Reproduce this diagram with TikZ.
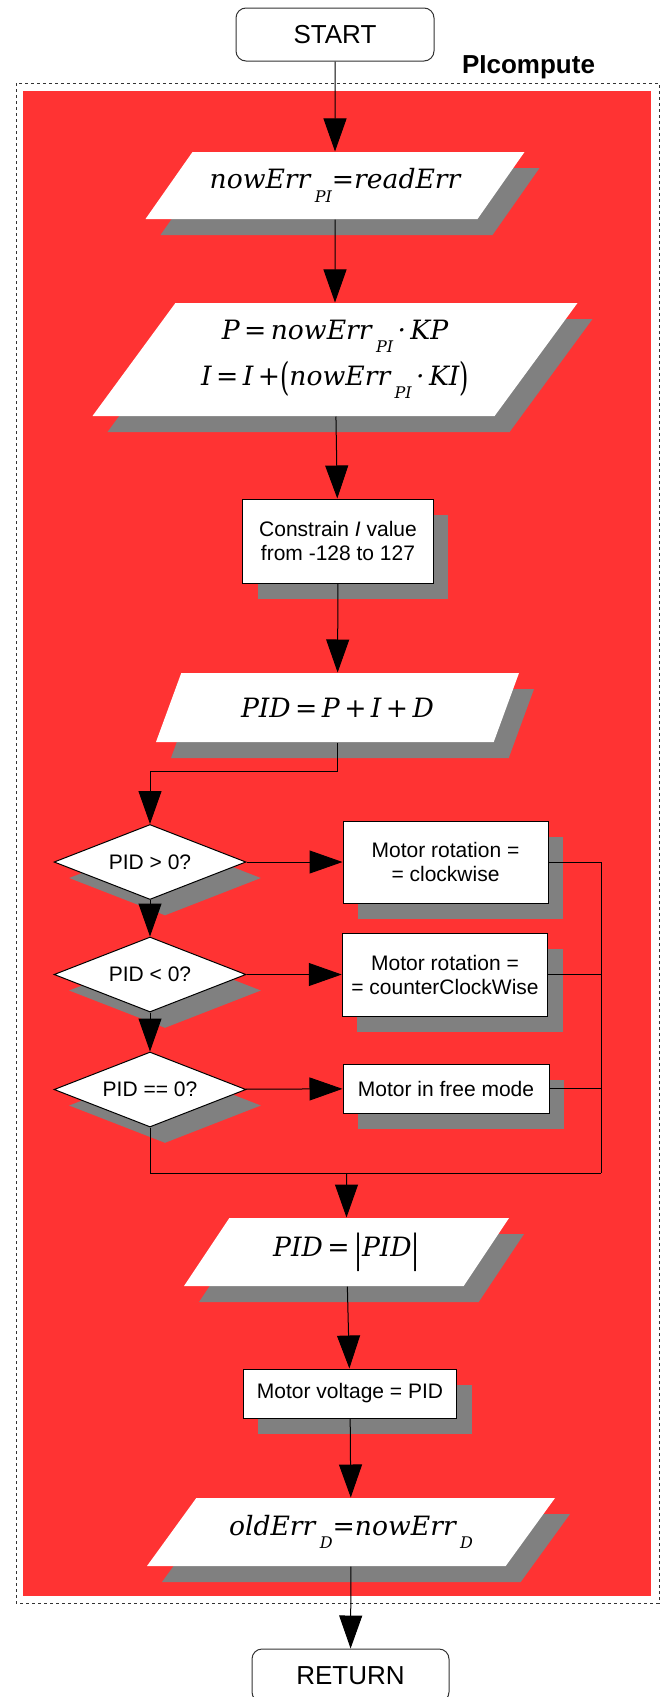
\documentclass[tikz,border=0pt]{standalone}
\usepackage{fontspec}
\setmainfont{Liberation Sans}
\newfontfamily\formfont{DejaVu Serif}
\usetikzlibrary{shapes.geometric,arrows.meta,shadows}

\definecolor{framered}{RGB}{255,51,51}
\definecolor{shadegray}{RGB}{128,128,128}

\newcommand{\fsub}[1]{\,\raisebox{-0.5em}{\fontsize{8}{8}\selectfont #1}}
\newcommand{\fdot}{\,\textperiodcentered\,}
\newcommand{\tallp}[1]{\raisebox{-0.2em}{\scalebox{0.9}[1.45]{\upshape #1}}}

\tikzset{
    shade/.style={drop shadow={shadow xshift=7.5pt, shadow yshift=-8pt, fill=shadegray, opacity=1}},
    iobox/.style={shape=trapezium, trapezium stretches body, fill=white, shade, inner sep=0pt,
        align=center, font=\formfont\itshape\fontsize{13.3}{23}\selectfont},
    procbox/.style={rectangle, draw=black, fill=white, shade, inner sep=0pt, align=center,
        font=\fontsize{10.5}{12}\selectfont},
    decbox/.style={diamond, aspect=2.5, draw=black, fill=white, shade, inner sep=0pt,
        minimum width=96pt, minimum height=37.5pt, font=\fontsize{10.5}{12}\selectfont},
    termbox/.style={rectangle, rounded corners=5pt, draw=black!80, fill=white,
        minimum height=26.5pt, font=\fontsize{13}{15}\selectfont},
    arr/.style={-{Triangle[length=16.5pt, width=11.5pt]}},
}

\begin{document}
\begin{tikzpicture}[x=0.5pt, y=-0.5pt, line width=0.5pt]
    \useasboundingbox (0,0) rectangle (663,1697);

    % Moldura
    \fill[framered] (23,91) rectangle (651,1596);
    \draw[black!80, dash pattern=on 1.5pt off 1.5pt] (16,83) rectangle (659,1603);
    \node[font=\bfseries\fontsize{13}{15}\selectfont] (title) at (528.5,67) {PIcompute};

    % Nodos principais
    \node[termbox, minimum width=99pt] (start) at (335,34.5) {START};
    \node[iobox, trapezium left angle=35.5, trapezium right angle=144.5,
        minimum width=189.5pt, minimum height=33.5pt] (readerr) at (335,185.5)
        {nowErr\fsub{PI}=readErr};
    \node[iobox, trapezium left angle=43.5, trapezium right angle=136.5,
        minimum width=242.5pt, minimum height=56.5pt] (calcpi) at (335,359.5)
        {P\,=\,nowErr\fsub{PI}\fdot KP\\I\,=\,I\,+\tallp{(}nowErr\fsub{PI}\fdot KI\tallp{)}};
    \node[procbox, minimum width=95.25pt, minimum height=42pt] (constrain) at (338,541)
        {Constrain \textit{I} value\\from -128 to 127};
    \node[iobox, trapezium left angle=37.5, trapezium right angle=142.5,
        minimum width=181.5pt, minimum height=34.5pt] (sumpid) at (337.5,707.5)
        {PID\,=\,P\,+\,I\,+\,D};

    % Nodos de decisao
    \node[decbox] (gtzero) at (150,862) {PID > 0?};
    \node[decbox] (ltzero) at (150,974.5) {PID < 0?};
    \node[decbox] (eqzero) at (150,1089.5) {PID == 0?};
    \node[procbox, minimum width=102.5pt, minimum height=41pt] (cw) at (445.5,862)
        {Motor rotation =\\= clockwise};
    \node[procbox, minimum width=102.75pt, minimum height=41.5pt] (ccw) at (445,974.5)
        {Motor rotation =\\= counterClockWise};
    \node[procbox, minimum width=103pt, minimum height=24.5pt] (free) at (446,1088.5)
        {Motor in free mode};
    \coordinate (join) at (601,1173);
    \coordinate (merge) at (346.5,1173);

    % Nodos finais
    \node[iobox, trapezium left angle=40.4, trapezium right angle=139.6,
        minimum width=162.5pt, minimum height=34pt] (abspid) at (346.5,1252)
        {PID\,=\,\tallp{|}PID\tallp{|}};
    \node[procbox, minimum width=106.75pt, minimum height=24.5pt] (voltage) at (350,1393.5)
        {Motor voltage = PID};
    \node[iobox, trapezium left angle=34.2, trapezium right angle=145.8,
        minimum width=204pt, minimum height=34pt] (olderr) at (351,1532)
        {oldErr\fsub{D}=nowErr\fsub{D}};
    \node[termbox, minimum width=98.5pt] (return) at (350.5,1675.5) {RETURN};

    % Setas principais
    \path[draw, arr] (start) -- (readerr);
    \path[draw, arr] (readerr) -- (calcpi);
    \path[draw, arr] (calcpi) -- (constrain);
    \path[draw, arr] (constrain) -- (sumpid);
    \path[draw, arr] (sumpid.south) -- ++(0,29) -| (gtzero.north);

    % Setas das decisoes
    \path[draw, arr] (gtzero) -- (ltzero);
    \path[draw, arr] (ltzero) -- (eqzero);
    \path[draw, arr] (gtzero) -- (cw);
    \path[draw, arr] (ltzero) -- (ccw);
    \path[draw, arr] (eqzero) -- (free);
    \path[draw] (cw.east) -| (join);
    \path[draw] (ccw.east) -- (ccw.east -| join);
    \path[draw] (free.east) -- (free.east -| join);
    \path[draw] (eqzero.south) |- (join);

    % Setas finais
    \path[draw, arr] (merge) -- (abspid);
    \path[draw, arr] (abspid) -- (voltage);
    \path[draw, arr] (voltage) -- (olderr);
    \path[draw, arr] (olderr) -- (return);

\end{tikzpicture}
\end{document}
